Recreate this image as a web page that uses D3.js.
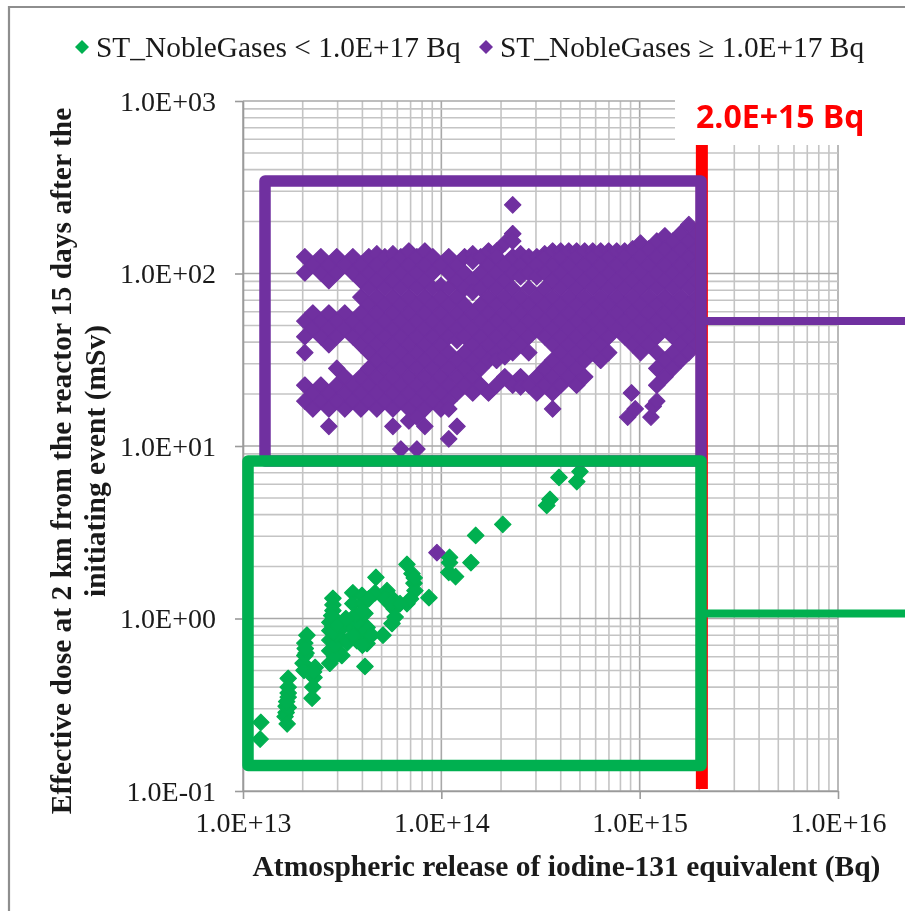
<!DOCTYPE html>
<html>
<head>
<meta charset="utf-8">
<style>
html, body { margin: 0; padding: 0; background: #fff; }
svg { display: block; filter: blur(0.35px); }
text { font-family: "Liberation Serif", serif; fill: #1a1a1a; }
.grid line { stroke: #c4c4c4; stroke-width: 1.6; }
.grid line.major { stroke: #a8a8a8; }
.axis .domain { stroke: #9a9a9a; stroke-width: 1.6; }
.axis .tick line { stroke: #9a9a9a; stroke-width: 1.6; }
.axis .tick text { font-size: 28px; }
</style>
</head>
<body>
<svg width="905" height="911"></svg>
<script src="https://d3js.org/d3.v7.min.js"></script>
<script>

var legendLabels = ["ST_NobleGases < 1.0E+17 Bq", "ST_NobleGases \u2265 1.0E+17 Bq"];
var xTicks = [1e13, 1e14, 1e15, 1e16];
var yTicks = [0.1, 1, 10, 100, 1000];
var xTickLabels = ["1.0E+13", "1.0E+14", "1.0E+15", "1.0E+16"];
var yTickLabels = ["1.0E-01", "1.0E+00", "1.0E+01", "1.0E+02", "1.0E+03"];
var limitValue = 2e15;

// ST_NobleGases < 1.0E+17 Bq
var greenX = [1.22e13, 1.23e13, 1.69e13, 1.69e13, 1.69e13, 1.65e13, 1.65e13, 1.63e13, 1.67e13, 1.69e13, 1.69e13, 1.66e13,
  2.10e13, 2.05e13, 2.08e13, 2.01e13, 2.03e13, 2.31e13, 2.28e13, 2.25e13, 2.23e13, 2.05e13, 2.06e13, 2.27e13,
  2.84e13, 2.84e13, 2.84e13, 2.84e13, 2.74e13, 2.84e13, 2.98e13, 2.74e13, 3.15e13, 3.19e13, 3.08e13, 2.74e13, 2.84e13, 2.74e13, 2.90e13, 3.34e13, 2.74e13, 2.90e13, 2.95e13, 2.80e13, 2.86e13, 3.00e13,
  3.58e13, 3.98e13, 4.63e13, 5.32e13, 5.64e13, 5.77e13, 5.64e13, 5.08e13, 3.58e13, 4.03e13, 4.12e13, 3.89e13, 4.22e13, 3.75e13, 4.22e13, 3.98e13, 3.54e13, 4.12e13, 4.68e13, 3.75e13, 3.70e13, 4.30e13, 4.00e13, 3.60e13, 4.00e13, 3.30e13, 4.45e13, 5.20e13, 5.50e13, 5.85e13,
  6.71e13, 7.11e13, 7.28e13, 7.36e13, 6.71e13, 8.66e13, 7.00e13, 6.19e13, 7.30e13,
  1.10e14, 1.10e14, 1.09e14, 1.18e14, 1.41e14, 1.49e14, 2.04e14, 3.40e14, 3.53e14, 3.92e14, 4.82e14, 5.00e14];
var greenY = [0.20, 0.25, 0.45, 0.40, 0.35, 0.31, 0.285, 0.27, 0.245, 0.305, 0.37, 0.33,
  0.80, 0.72, 0.63, 0.55, 0.50, 0.52, 0.455, 0.40, 0.345, 0.61, 0.67, 0.49,
  1.31, 1.20, 1.11, 0.97, 0.85, 0.745, 0.65, 0.55, 0.61, 0.89, 0.78, 0.65, 0.90, 0.75, 0.60, 0.72, 0.95, 0.70, 0.80, 1.04, 0.84, 0.92,
  1.41, 1.36, 1.41, 1.45, 1.31, 1.14, 0.935, 0.80, 1.22, 1.22, 1.07, 0.935, 0.887, 0.745, 0.716, 0.82, 0.887, 0.527, 1.73, 0.95, 1.05, 1.30, 1.10, 0.80, 0.70, 1.00, 0.80, 1.30, 1.22, 1.02,
  2.06, 1.82, 1.60, 1.45, 1.22, 1.32, 1.30, 1.22, 1.72,
  2.26, 2.11, 1.85, 1.75, 2.11, 3.03, 3.51, 4.52, 4.90, 6.57, 6.22, 7.11];

// ST_NobleGases >= 1.0E+17 Bq, release value with the doses seen at that release
var purpleColumns = [
  [2.05e13, [125, 101, 53, 43, 34.8, 22.5, 18.2]],
  [2.25e13, [112, 59, 48, 20.3, 16.4]],
  [2.47e13, [125, 101, 53, 43, 22.5, 18.2]],
  [2.71e13, [112, 91, 59, 48, 38.7, 20.3, 16.4, 13]],
  [2.97e13, [125, 101, 53, 43, 28.2, 22.5, 18.2]],
  [3.26e13, [112, 59, 48, 25.2, 20.3, 16.4]],
  [3.58e13, [125, 101, 53, 43, 22.5, 18.2]],
  [3.93e13, [112, 91, 73, 59, 48, 38.7, 25.2, 20.3, 16.4]],
  [4.31e13, [125, 101, 82, 66, 53, 43, 34.8, 28.2, 22.5, 18.2]],
  [4.73e13, [130, 112, 91, 73, 59, 48, 38.7, 31.4, 25.2, 20.3, 16.4]],
  [5.19e13, [125, 101, 82, 66, 53, 43, 34.8, 28.2, 22.5, 18.2]],
  [5.70e13, [130, 112, 91, 73, 59, 48, 38.7, 31.4, 25.2, 20.3, 16.4, 13]],
  [6.25e13, [125, 101, 82, 66, 53, 43, 34.8, 28.2, 22.5, 18.2, 9.6]],
  [6.86e13, [135, 112, 91, 73, 59, 48, 38.7, 31.4, 25.2, 20.3, 16.4, 14]],
  [7.53e13, [125, 101, 82, 66, 53, 43, 34.8, 28.2, 22.5, 18.2, 14.7, 9.6]],
  [8.26e13, [135, 112, 91, 73, 59, 48, 38.7, 31.4, 25.2, 20.3, 16.4, 13]],
  [9.06e13, [125, 101, 82, 66, 53, 43, 34.8, 28.2, 22.5, 18.2]],
  [9.95e13, [112, 85, 73, 59, 48, 38.7, 31.4, 25.2, 20.3, 16.4]],
  [1.09e14, [125, 101, 82, 66, 53, 43, 34.8, 28.2, 22.5, 18.2, 16.4, 11]],
  [1.20e14, [112, 91, 73, 59, 48, 41, 31.4, 25.2, 20.3, 13]],
  [1.31e14, [125, 101, 82, 66, 53, 43, 34.8, 28.2, 22.5]],
  [1.44e14, [130, 118, 91, 78, 59, 48, 38.7, 31.4, 25.2, 20.3]],
  [1.58e14, [125, 101, 82, 66, 53, 43, 34.8, 28.2, 22.5]],
  [1.73e14, [135, 112, 91, 73, 59, 48, 38.7, 31.4, 20.3]],
  [1.90e14, [135, 125, 101, 82, 66, 53, 43, 34.8, 31.4, 22.5]],
  [2.09e14, [150, 112, 91, 73, 59, 48, 38.7, 33, 25.2]],
  [2.29e14, [250, 170, 154, 125, 101, 82, 66, 53, 43, 34.8, 22.5]],
  [2.51e14, [130, 112, 96, 73, 59, 48, 38.7, 25.2, 22]],
  [2.76e14, [125, 101, 82, 66, 53, 43, 34.8, 22.5]],
  [3.03e14, [125, 112, 96, 73, 59, 48, 25.2, 20.3]],
  [3.32e14, [130, 125, 101, 82, 66, 53, 43, 28.2, 22.5]],
  [3.64e14, [135, 112, 91, 73, 59, 48, 38.7, 31.4, 25.2, 20.3, 16.4]],
  [4.00e14, [135, 125, 101, 82, 66, 53, 43, 34.8, 28.2, 22.5]],
  [4.39e14, [135, 112, 91, 73, 59, 48, 38.7, 31.4, 25.2]],
  [4.81e14, [135, 125, 101, 82, 66, 53, 43, 34.8, 28.2, 22.5]],
  [5.28e14, [135, 112, 91, 73, 59, 48, 38.7, 31.4, 25.2]],
  [5.80e14, [135, 125, 101, 82, 66, 53, 43, 34.8]],
  [6.36e14, [135, 112, 91, 73, 59, 48, 38.7, 31.4]],
  [6.98e14, [135, 125, 101, 82, 66, 53, 43, 34.8]],
  [7.66e14, [135, 112, 91, 73, 59, 48]],
  [8.40e14, [135, 125, 101, 82, 66, 53, 43]],
  [8.70e14, [14.7]],
  [9.10e14, [20.3]],
  [9.22e14, [139, 112, 91, 73, 59, 48, 38.7]],
  [9.50e14, [16.4]],
  [1.01e15, [150, 125, 101, 82, 66, 53, 43, 34.8]],
  [1.11e15, [139, 112, 91, 73, 59, 48, 38.7]],
  [1.14e15, [14.7]],
  [1.17e15, [17]],
  [1.22e15, [154, 125, 101, 82, 66, 53, 43, 34.8, 28.2, 22.5, 18.2]],
  [1.34e15, [165, 139, 112, 91, 73, 59, 48, 31.4, 25.2]],
  [1.47e15, [154, 125, 101, 82, 66, 53, 43, 34.8, 28.2]],
  [1.61e15, [171, 139, 112, 91, 73, 59, 48, 38.7, 31.4]],
  [1.77e15, [192, 154, 125, 101, 82, 66, 53, 43, 34.8]],
  [1.94e15, [171, 139, 112, 91, 73, 59, 48, 38.7]],
  [9.50e13, [2.41]]
];

var svg = d3.select("svg");

var x = d3.scaleLog().domain([1e13, 1e16]).range([243, 838]);
var y = d3.scaleLog().domain([0.1, 1000]).range([791, 101]);

// outer frame of the slide picture, only top and left show
svg.append("path")
    .attr("d", "M9,911 V7 H905")
    .attr("fill", "none")
    .attr("stroke", "#8e8e8e")
    .attr("stroke-width", 2.2);

// grid with all the minor log lines
var xGrid = x.ticks(), yGrid = y.ticks();
var grid = svg.append("g").attr("class", "grid");
grid.selectAll(".gx").data(xGrid).enter().append("line")
    .attr("class", function(d) { return xTicks.indexOf(d) >= 0 ? "major" : null; })
    .attr("x1", function(d) { return x(d); })
    .attr("x2", function(d) { return x(d); })
    .attr("y1", y(1000))
    .attr("y2", y(0.1));
grid.selectAll(".gy").data(yGrid).enter().append("line")
    .attr("class", function(d) { return yTicks.indexOf(d) >= 0 ? "major" : null; })
    .attr("x1", x(1e13))
    .attr("x2", x(1e16))
    .attr("y1", function(d) { return y(d); })
    .attr("y2", function(d) { return y(d); });

var xAxis = svg.append("g")
    .attr("class", "axis")
    .attr("transform", "translate(0," + y(0.1) + ")")
    .call(d3.axisBottom(x).tickValues(xTicks).tickSize(8).tickSizeOuter(0)
      .tickFormat(function(d, i) { return xTickLabels[i]; }));
xAxis.selectAll(".tick text").attr("y", 41).attr("dy", 0);

var yAxis = svg.append("g")
    .attr("class", "axis")
    .attr("transform", "translate(" + x(1e13) + ",0)")
    .call(d3.axisLeft(y).tickValues(yTicks).tickSize(8).tickSizeOuter(0)
      .tickFormat(function(d, i) { return yTickLabels[i]; }));
yAxis.selectAll(".tick text").attr("x", -27).attr("dy", 9);

// white patch behind the limit label
svg.append("rect")
    .attr("x", 675).attr("y", 95)
    .attr("width", 230).attr("height", 50)
    .attr("fill", "#fff");

var diamond = function(r) { return "M0," + (-r) + "L" + r + ",0L0," + r + "L" + (-r) + ",0Z"; };

var green = greenX.map(function(d, i) { return [d, greenY[i]]; });
var purple = [];
purpleColumns.forEach(function(c) {
  c[1].forEach(function(v) { purple.push([c[0], v]); });
});

function drawSeries(points, color) {
  svg.append("g").selectAll("path")
      .data(points)
      .enter().append("path")
      .attr("d", diamond(8.2))
      .attr("transform", function(d) { return "translate(" + x(d[0]) + "," + y(d[1]) + ")"; })
      .attr("fill", color)
      .attr("stroke", color)
      .attr("stroke-width", 1.2)
      .attr("stroke-linejoin", "round");
}
drawSeries(green, "#00b050");
drawSeries(purple, "#7030a0");

// limit line at 2.0E+15 Bq
svg.append("rect")
    .attr("x", x(limitValue) - 3.5).attr("y", 145)
    .attr("width", 12).attr("height", 644)
    .attr("fill", "#ff0000");
svg.append("text")
    .attr("x", 696).attr("y", 128)
    .style("font-family", "'Open Sans', sans-serif")
    .style("font-weight", 700)
    .style("font-size", "32px")
    .style("fill", "#ff0000")
    .text("2.0E+15 Bq");

// the two boxes with their leader lines
function box(x0, y0, x1, y1, leaderY, color) {
  svg.append("rect")
      .attr("x", x0).attr("y", y0)
      .attr("width", x1 - x0).attr("height", y1 - y0)
      .attr("fill", "none")
      .attr("stroke", color)
      .attr("stroke-width", 11.5)
      .attr("stroke-linejoin", "round");
  svg.append("line")
      .attr("x1", x1).attr("x2", 905)
      .attr("y1", leaderY).attr("y2", leaderY)
      .attr("stroke", color)
      .attr("stroke-width", 8);
}
box(265, 181, 701, 461, 321, "#7030a0");
box(248, 461, 701, 765.5, 613.5, "#00b050");

// legend
var legendX = [82, 486], legendColors = ["#00b050", "#7030a0"];
legendLabels.forEach(function(t, i) {
  svg.append("path")
      .attr("d", diamond(7))
      .attr("transform", "translate(" + legendX[i] + ",47)")
      .attr("fill", legendColors[i]);
  svg.append("text")
      .attr("x", legendX[i] + 14).attr("y", 57)
      .style("font-size", "29.4px")
      .text(t);
});

// axis titles
svg.append("text")
    .attr("x", 566.5).attr("y", 876)
    .attr("text-anchor", "middle")
    .style("font-weight", 700)
    .style("font-size", "29.5px")
    .text("Atmospheric release of iodine-131 equivalent (Bq)");

var yTitle = svg.append("text")
    .attr("transform", "translate(71,461) rotate(-90)")
    .attr("text-anchor", "middle")
    .style("font-weight", 700)
    .style("font-size", "29.5px");
yTitle.append("tspan").attr("x", 0).attr("y", 0)
    .text("Effective dose at 2 km from the reactor 15 days after the");
yTitle.append("tspan").attr("x", 0).attr("y", 34)
    .text("initiating  event (mSv)");

</script>
</body>
</html>
